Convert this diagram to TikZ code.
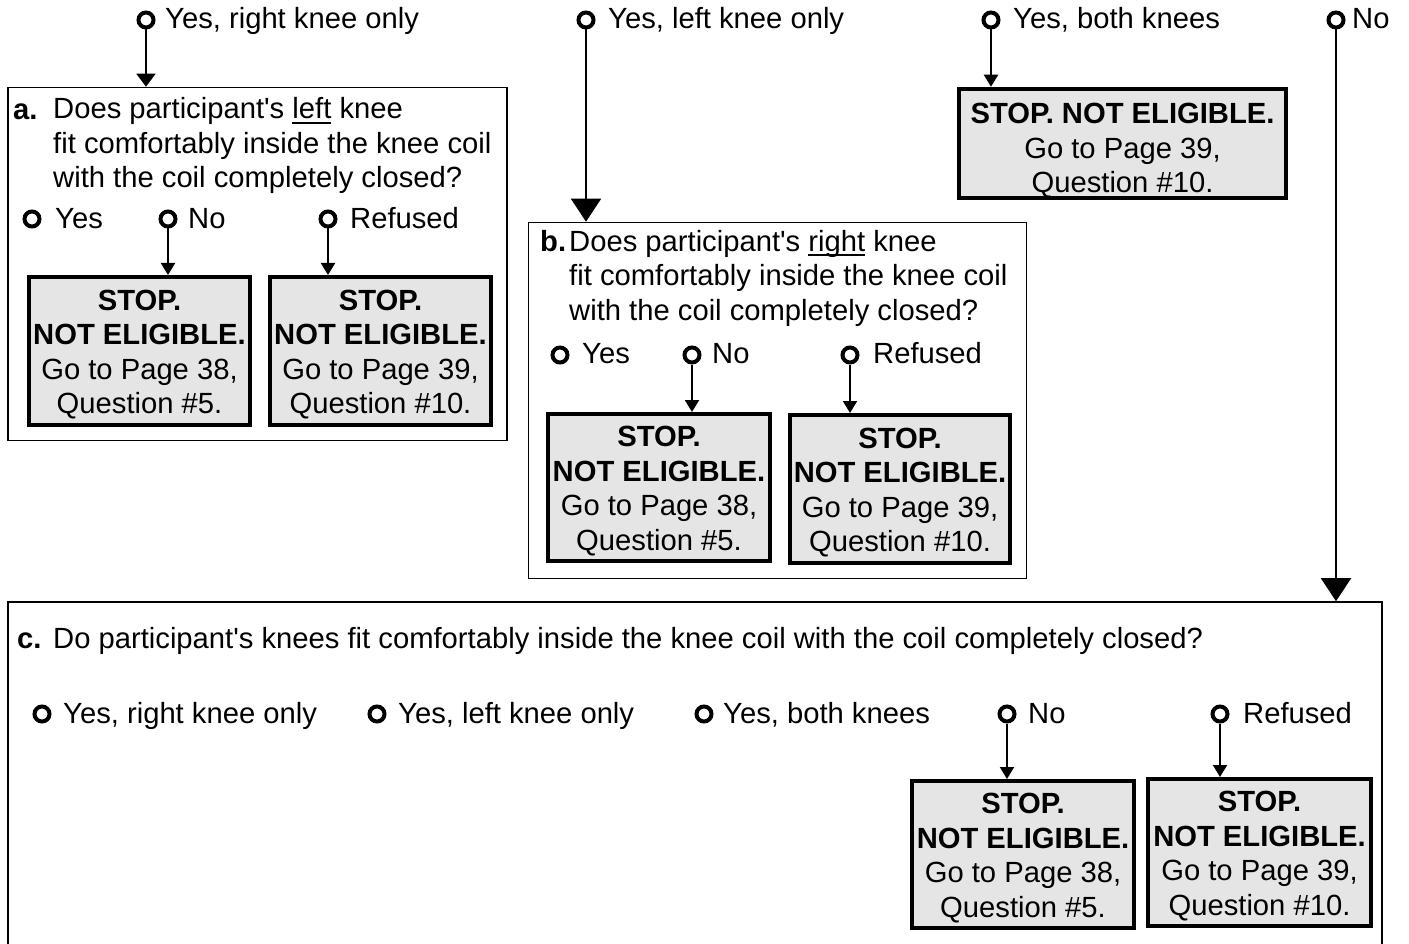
\documentclass[tikz,border=0pt]{standalone}
\usepackage{fontspec}
\setmainfont{Liberation Sans}
\usetikzlibrary{arrows.meta, positioning}

% underlined word, rule placed under the baseline
\newcommand{\undl}[1]{\setbox0\hbox{#1}\rlap{\rule[-5pt]{\wd0}{2pt}}\box0\relax}
\newcommand{\apos}{\textquotesingle}
% invisible strut that pushes the text of a stop box down
\newcommand{\topgap}[1]{\rule{0pt}{#1}}

\tikzset{
  radio/.style={circle, draw, line width=4pt, inner sep=0pt, minimum size=15pt},
  opt/.style={anchor=base west, inner sep=0pt},
  qtext/.style={anchor=base west, inner sep=0pt, align=left},
  qbox/.style={draw, line width=1.6pt, inner sep=0pt},
  stopbox/.style={draw, line width=4pt, fill=black!10, align=center, inner sep=0pt},
  small arrow/.style={-{Triangle[width=14pt,length=12pt]}, line width=2pt},
  mid arrow/.style={-{Triangle[width=19pt,length=13pt]}, line width=2pt},
  big arrow/.style={-{Triangle[width=30pt,length=23pt]}, line width=2pt},
}

\begin{document}
\begin{tikzpicture}[x=1pt, y=-1pt, font=\fontsize{29.2}{34.5}\selectfont]

    \useasboundingbox (0,0) rectangle (1409,944);
    \clip (0,0) rectangle (1409,944);

    % 1. Top answers
    \node[radio] (t1) at (146,20) {};
    \node[opt] (t1l) at (165,29) {Yes, right knee only};
    \node[radio] (t2) at (586,20) {};
    \node[opt] (t2l) at (608,29) {Yes, left knee only};
    \node[radio] (t3) at (991,20) {};
    \node[opt] (t3l) at (1013,29) {Yes, both knees};
    \node[radio] (t4) at (1336,20) {};
    \node[opt] (t4l) at (1352,29) {No};

    % 2. Stop box for both knees
    \node[stopbox, minimum width=327pt, minimum height=109pt] (s3) at (1122.5,143.5)
        {\topgap{35pt}\textbf{STOP. NOT ELIGIBLE.}\\Go to Page 39,\\Question \#10.};

    % 3. Question a (base of the node is its last line)
    \node[qbox, minimum width=499pt, minimum height=353pt] (qa) at (257.5,264) {};
    \node[opt, font=\fontsize{29.2}{34.5}\selectfont\bfseries] (qal) at (13,120) {a.};
    \node[qtext] (qat) at (53,188) {Does participant\apos s \undl{left} knee\\
        fit comfortably inside the knee coil\\with the coil completely closed?};
    \node[radio] (ay) at (32,219) {};
    \node[opt] (ayl) at (55,229) {Yes};
    \node[radio] (an) at (168,219) {};
    \node[opt] (anl) at (188,229) {No};
    \node[radio] (ar) at (328,219) {};
    \node[opt] (arl) at (350,229) {Refused};
    \node[stopbox, minimum width=221pt, minimum height=148pt] (sa1) at (139.5,351)
        {\topgap{28pt}\textbf{STOP.}\\\textbf{NOT ELIGIBLE.}\\Go to Page 38,\\Question \#5.};
    \node[stopbox, minimum width=221pt, minimum height=148pt] (sa2) at (380.5,351)
        {\topgap{28pt}\textbf{STOP.}\\\textbf{NOT ELIGIBLE.}\\Go to Page 39,\\Question \#10.};

    % 4. Question b
    \node[qbox, minimum width=498pt, minimum height=356pt] (qb) at (777.5,400.5) {};
    \node[opt, font=\fontsize{29.2}{34.5}\selectfont\bfseries] (qbl) at (540,252) {b.};
    \node[qtext] (qbt) at (569,320) {Does participant\apos s \undl{right} knee\\
        fit comfortably inside the knee coil\\with the coil completely closed?};
    \node[radio] (by) at (560,355) {};
    \node[opt] (byl) at (582,363) {Yes};
    \node[radio] (bn) at (692,355) {};
    \node[opt] (bnl) at (712,363) {No};
    \node[radio] (br) at (850,355) {};
    \node[opt] (brl) at (873,363) {Refused};
    \node[stopbox, minimum width=222pt, minimum height=147pt] (sb1) at (659,487.5)
        {\topgap{28pt}\textbf{STOP.}\\\textbf{NOT ELIGIBLE.}\\Go to Page 38,\\Question \#5.};
    \node[stopbox, minimum width=220pt, minimum height=148pt] (sb2) at (900,489)
        {\topgap{28pt}\textbf{STOP.}\\\textbf{NOT ELIGIBLE.}\\Go to Page 39,\\Question \#10.};

    % 5. Question c (bottom edge runs off the page)
    \node[qbox, minimum width=1374pt, minimum height=358pt] (qc) at (695,781) {};
    \node[opt, font=\fontsize{29.2}{34.5}\selectfont\bfseries] (qcl) at (17,648) {c.};
    \node[opt] (qct) at (53,648) {Do participant\apos s knees fit comfortably inside the knee coil with the coil completely closed?};
    \node[radio] (c1) at (42,714) {};
    \node[opt] (c1l) at (63,723) {Yes, right knee only};
    \node[radio] (c2) at (377,714) {};
    \node[opt] (c2l) at (398,723) {Yes, left knee only};
    \node[radio] (c3) at (704,714) {};
    \node[opt] (c3l) at (723,723) {Yes, both knees};
    \node[radio] (cn) at (1007,714) {};
    \node[opt] (cnl) at (1028,723) {No};
    \node[radio] (cr) at (1220,714) {};
    \node[opt] (crl) at (1243,723) {Refused};
    \node[stopbox, minimum width=222pt, minimum height=147pt] (sc1) at (1023,854.5)
        {\topgap{28pt}\textbf{STOP.}\\\textbf{NOT ELIGIBLE.}\\Go to Page 38,\\Question \#5.};
    \node[stopbox, minimum width=223pt, minimum height=147pt] (sc2) at (1259.5,852.5)
        {\topgap{28pt}\textbf{STOP.}\\\textbf{NOT ELIGIBLE.}\\Go to Page 39,\\Question \#10.};

    % 6. Connectors
    \draw[mid arrow] (t1.south) -- (qa.north -| t1);
    \draw[big arrow] (t2.south) -- (qb.north -| t2);
    \draw[small arrow] (t3.south) -- (s3.north -| t3);
    \draw[big arrow] (t4.south) -- (qc.north -| t4);
    \draw[small arrow] (an.south) -- (sa1.north -| an);
    \draw[small arrow] (ar.south) -- (sa2.north -| ar);
    \draw[small arrow] (bn.south) -- (sb1.north -| bn);
    \draw[small arrow] (br.south) -- (sb2.north -| br);
    \draw[small arrow] (cn.south) -- (sc1.north -| cn);
    \draw[small arrow] (cr.south) -- (sc2.north -| cr);

\end{tikzpicture}
\end{document}
